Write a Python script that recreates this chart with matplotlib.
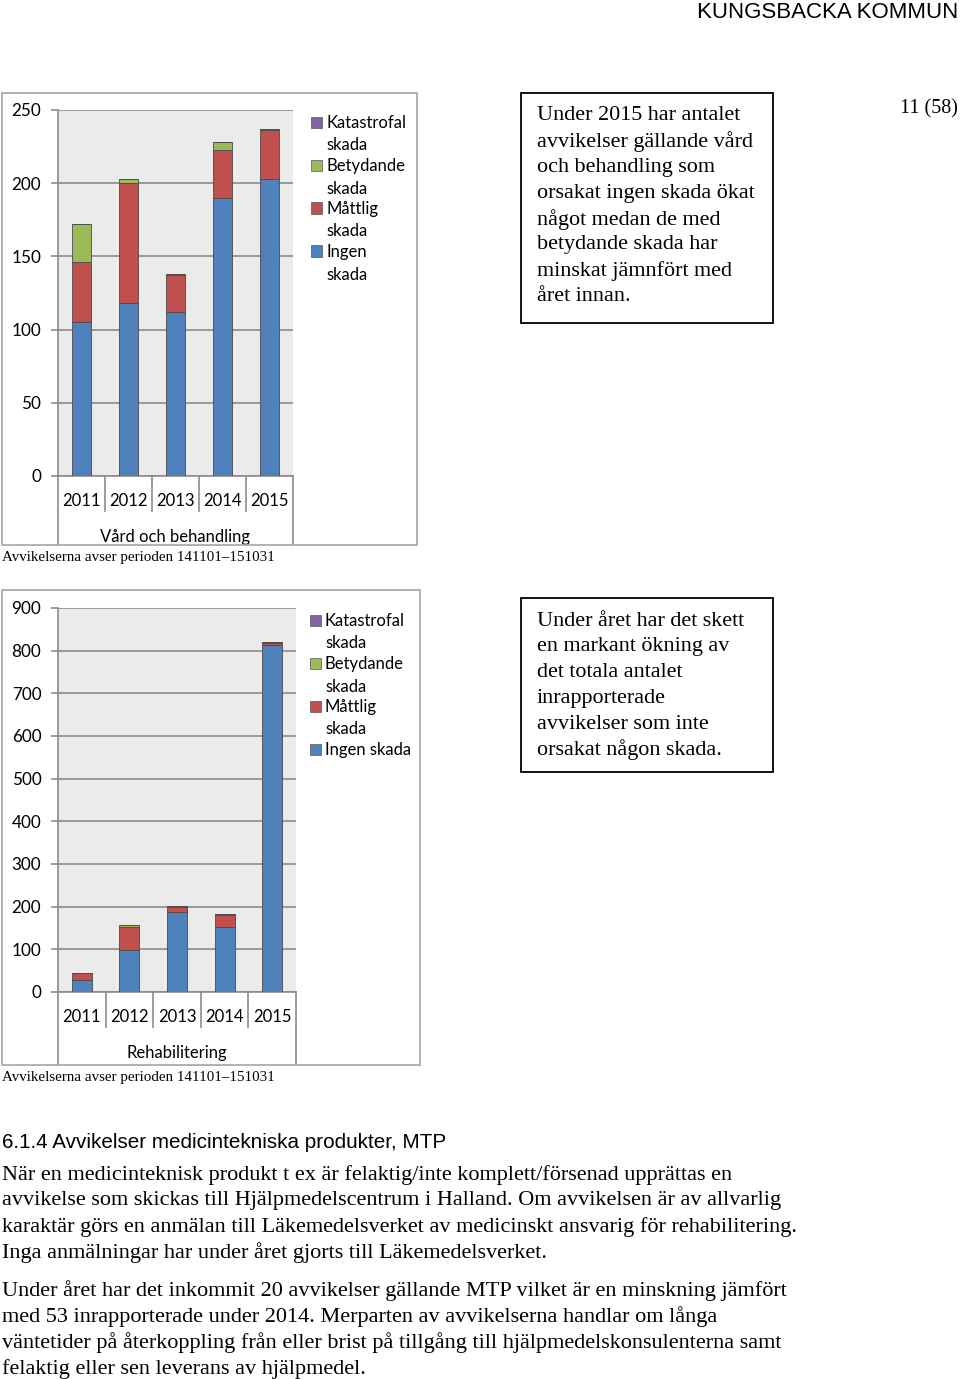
import numpy as np
import matplotlib.pyplot as plt
from matplotlib.patches import Rectangle
from matplotlib.transforms import blended_transform_factory

W, H = 960, 1379

years = ['2011', '2012', '2013', '2014', '2015']
colors = ['#4f81bd', '#c0504d', '#9bbb59', '#8064a2']

# Vård och behandling (Ingen, Måttlig, Betydande, Katastrofal)
vard_ingen = [105, 118, 112, 190, 203]
vard_mattlig = [41, 82, 25, 33, 33]
vard_betydande = [26, 3, 1, 5, 1]
vard_katastrofal = [0, 0, 0, 0, 0]

# Rehabilitering
rehab_ingen = [27, 99, 187, 153, 813]
rehab_mattlig = [17, 54, 13, 27, 6]
rehab_betydande = [1, 5, 2, 3, 1]
rehab_katastrofal = [0, 0, 0, 0, 0]

legend1 = ['Katastrofal\nskada', 'Betydande\nskada', 'Måttlig\nskada', 'Ingen\nskada']
legend2 = ['Katastrofal\nskada', 'Betydande\nskada', 'Måttlig\nskada', 'Ingen skada']

box1_text = ['Under 2015 har antalet', 'avvikelser gällande vård', 'och behandling som',
             'orsakat ingen skada ökat', 'något medan de med', 'betydande skada har',
             'minskat jämnfört med', 'året innan.']
box2_text = ['Under året har det skett', 'en markant ökning av', 'det totala antalet',
             'inrapporterade', 'avvikelser som inte', 'orsakat någon skada.']

heading = '6.1.4 Avvikelser medicintekniska produkter, MTP'
para1 = ['När en medicinteknisk produkt t ex är felaktig/inte komplett/försenad upprättas en',
         'avvikelse som skickas till Hjälpmedelscentrum i Halland. Om avvikelsen är av allvarlig',
         'karaktär görs en anmälan till Läkemedelsverket av medicinskt ansvarig för rehabilitering.',
         'Inga anmälningar har under året gjorts till Läkemedelsverket.']
para2 = ['Under året har det inkommit 20 avvikelser gällande MTP vilket är en minskning jämfört',
         'med 53 inrapporterade under 2014. Merparten av avvikelserna handlar om långa',
         'väntetider på återkoppling från eller brist på tillgång till hjälpmedelskonsulenterna samt',
         'felaktig eller sen leverans av hjälpmedel.']
caption = 'Avvikelserna avser perioden 141101\u2013151031'

SERIF = 'Liberation Serif'
SANS = 'Liberation Sans'
CAL = 'Lato'
GRID = '#8c8c8c'

fig = plt.figure(figsize=(W / 100, H / 100), dpi=100)


def fx(x):
    return x / W


def fy(y):
    return 1 - y / H


def rect(x0, y0, x1, y1, **kw):
    fig.add_artist(Rectangle((fx(x0), fy(y1)), (x1 - x0) / W, (y1 - y0) / H,
                             transform=fig.transFigure, **kw))


def lines(x, y0, step, txt, **kw):
    for i, t in enumerate(txt):
        fig.text(fx(x), fy(y0 + i * step), t, va='center', ha='left', **kw)


def chart(x0, y0, x1, y1, data, ymax, step, title, labels, bottom_px, leg_x, leg_y):
    ax = fig.add_axes([fx(x0), fy(y1), (x1 - x0) / W, (y1 - y0) / H])
    ax.set_facecolor('#ebebeb')
    h = y1 - y0
    x = np.arange(len(years))
    bottom = np.zeros(len(years))
    for vals, c in zip(data, colors):
        ax.bar(x, vals, 0.42, bottom=bottom, color=c, edgecolor='#4a4a4a',
               linewidth=0.6, zorder=3)
        bottom += np.array(vals)
    ax.set_xlim(-0.5, len(years) - 0.5)
    ax.set_ylim(0, ymax)
    ax.set_yticks(np.arange(0, ymax + 1, step))
    ax.yaxis.grid(True, color=GRID, lw=1.2)
    ax.set_axisbelow(True)
    for s in ['top', 'right']:
        ax.spines[s].set_visible(False)
    for s in ['left', 'bottom']:
        ax.spines[s].set_color(GRID)
        ax.spines[s].set_linewidth(1.2)
    ax.tick_params(axis='y', length=5, color=GRID, width=1.2, pad=7, labelsize=12.3)
    for t in ax.get_yticklabels():
        t.set_fontfamily(CAL)
    ax.set_xticks([])

    trans = blended_transform_factory(ax.transData, ax.transAxes)
    for i in range(len(years) + 1):
        depth = (bottom_px - y1) if i in (0, len(years)) else 35
        ax.plot([i - 0.5, i - 0.5], [0, -depth / h], transform=trans,
                clip_on=False, color=GRID, lw=1.2)
    for i, yr in enumerate(years):
        ax.text(i, -25 / h, yr, transform=trans, ha='center', va='center',
                fontsize=12, family=CAL)
    ax.text(0.5, -61 / h, title, transform=ax.transAxes, ha='center', va='center',
            fontsize=12, family=CAL)

    # legend
    for k, (lab, c) in enumerate(zip(labels, colors[::-1])):
        yy = leg_y + k * 43
        rect(leg_x, yy - 5.5, leg_x + 11, yy + 5.5, facecolor=c, edgecolor='#555555', lw=0.5)
        lines(leg_x + 15, yy + 1, 22.5, lab.split('\n'), fontsize=12, family=CAL)
    return ax


# header
fig.text(fx(958), fy(13), 'KUNGSBACKA KOMMUN', ha='right', va='center',
         fontsize=16, family=SANS)
fig.text(fx(958), fy(109), '11 (58)', ha='right', va='center', fontsize=14.5, family=SERIF)

# chart 1
rect(2, 93, 417, 545, fill=False, edgecolor='#a6a6a6', lw=1.2)
chart(58, 110, 293, 476,
      [vard_ingen, vard_mattlig, vard_betydande, vard_katastrofal],
      250, 50, 'Vård och behandling', legend1, 545, 311, 122)
fig.text(fx(2), fy(558), caption, va='center', fontsize=10.8, family=SERIF)

rect(521, 93, 773, 323, fill=False, edgecolor='black', lw=1.3)
lines(537, 116, 25.8, box1_text, fontsize=15.9, family=SERIF)

# chart 2
rect(2, 590, 420, 1065, fill=False, edgecolor='#a6a6a6', lw=1.2)
chart(58, 608, 296, 992,
      [rehab_ingen, rehab_mattlig, rehab_betydande, rehab_katastrofal],
      900, 100, 'Rehabilitering', legend2, 1065, 310, 620)
fig.text(fx(2), fy(1078), caption, va='center', fontsize=10.8, family=SERIF)

rect(521, 598, 773, 772, fill=False, edgecolor='black', lw=1.3)
lines(537, 621, 25.8, box2_text, fontsize=15.9, family=SERIF)

# body text
fig.text(fx(2), fy(1143), heading, va='center', fontsize=14.9, family=SANS)
lines(2, 1175, 26, para1, fontsize=16, family=SERIF)
lines(2, 1291, 26, para2, fontsize=16, family=SERIF)

fig.savefig('out.png', dpi=100)
